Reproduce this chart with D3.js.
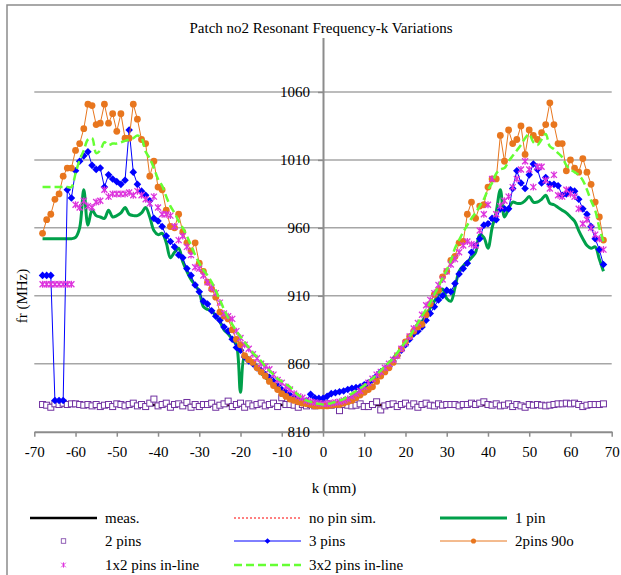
<!DOCTYPE html>
<html>
<head>
<meta charset="utf-8">
<script src="https://cdn.jsdelivr.net/npm/d3@7"></script>
<style>
  body { margin: 0; background: #fff; }
  svg { font-family: "Liberation Serif", "Times New Roman", serif; }
</style>
</head>
<body>
<svg id="chart" width="621" height="575"></svg>
<script>
// ---- data ----
const chartTitle = 'Patch no2 Resonant Frequency-k Variations';
const xTicks = [-70, -60, -50, -40, -30, -20, -10, 0, 10, 20, 30, 40, 50, 60, 70];
const yTicks = [810, 860, 910, 960, 1010, 1060];

// k positions of the simulated series, 1 mm step from -68 to 68
const kValues = d3.range(-68, 69);

const measK = [-68, -60, -50, -40, -30, -20, -10, 0, 10, 20, 30, 40, 50, 60, 68];
const measFr = [829.6, 829.5, 829.7, 829.6, 829.6, 829.5, 829.7, 829.6, 829.6, 829.7, 829.5, 829.6, 829.6, 829.7, 829.6];
const noPinFr = [829.8, 829.8, 829.9, 829.8, 829.7, 829.8, 829.9, 829.8, 829.8, 829.9, 829.8, 829.8, 829.7, 829.8, 829.8];

const onePin = [
  952, 952, 952, 952, 952, 952, 952, 952, 953, 960,
  988, 962, 973, 969, 968, 967, 973, 968, 969, 971,
  975, 970, 969, 969, 971, 975, 968, 958, 955, 956,
  949, 938, 942, 945, 935, 928, 922, 918, 913, 902,
  900, 899, 895, 891, 885, 882, 878, 874, 839, 866,
  864, 861, 857, 853, 850, 847, 844, 841, 839, 837,
  835, 833, 832, 831, 830.5, 830, 830, 830, 830, 830,
  830.5, 831, 832, 833, 834, 836, 838, 840, 842, 845,
  848, 851, 854, 857, 860, 864, 867, 871, 875, 879,
  883, 887, 891, 896, 901, 906, 911, 915, 908, 906,
  916, 928, 932, 935, 938, 942, 955, 953, 945, 960,
  972, 988, 968, 974, 979, 978, 978, 980, 983, 979,
  979, 981, 984, 978, 977, 975, 973, 971, 968, 965,
  958, 952, 947, 945, 946, 937, 928
];

const twoPins = [
  830, 829.5, 828, 830.5, 830, 831, 830, 830.5, 830.5, 830,
  829.5, 830, 829, 830, 828.5, 829.5, 830, 828.5, 830.5, 830,
  829, 830, 831, 829, 830, 828.5, 831, 834, 829, 830,
  831, 828, 830, 830.5, 829, 831.5, 828, 830, 828.5, 830,
  830, 831, 828, 829.5, 830.5, 832.5, 828.5, 830, 831, 828,
  830.5, 829, 830, 831, 829, 830, 831, 828.5, 835, 830,
  830, 829.5, 828, 830, 829, 830, 829, 830, 830, 830.5,
  829.5, 830, 825.5, 830, 829.5, 829, 829.5, 830.5, 828.5, 828.5,
  830, 832, 826, 829, 830, 830.5, 828.5, 830, 831, 829,
  830.5, 828, 830, 831, 829.5, 829, 830.5, 829.5, 830, 830,
  830, 829, 830, 830, 831, 830, 831, 832, 830, 829.5,
  830.5, 829, 829.5, 830.5, 828.5, 830, 829, 828, 830, 829.5,
  830, 829.5, 829, 829.5, 830, 830.5, 830.5, 831, 830.5, 831,
  830, 828.5, 829.5, 830, 830, 830, 830.5
];

const threePins = [
  925, 925, 925, 833, 833, 833, 988, 982, 1002, 1009,
  1013, 1016, 1006, 1003, 1004, 990, 999, 996, 994, 992,
  995, 1032, 1001, 992, 987, 984, 980, 967, 965, 961,
  954, 950, 946, 940, 938, 930, 925, 918, 913, 906,
  904, 899, 895, 892, 887, 884, 878, 872, 870, 865,
  862, 860, 857, 855, 852, 850, 847, 844, 841, 839,
  837, 835, 833, 832, 833, 837.5, 835, 834.5, 834.5, 836,
  838, 838.7, 839.4, 840, 841, 842, 842.5, 843, 844.5, 846,
  848, 851, 854, 856, 858, 862, 866, 870, 874, 878,
  882, 884, 887, 892, 897, 902, 907, 910, 914, 913,
  919, 926, 930, 934, 942, 947, 952, 962, 963, 967,
  966, 974, 974, 974, 989, 1002, 993, 989, 999, 1007,
  1003, 993, 997, 992, 992, 991, 984, 985, 988, 987,
  981, 974, 970, 961, 952, 944, 933
];

const twoPins90 = [
  956, 966, 970, 981, 985, 998, 1004, 1004, 1017, 1022,
  1033, 1051, 1050, 1036, 1037, 1051, 1037, 1044, 1031, 1044,
  1026, 1026, 1051, 1040, 1025, 1022, 998, 1009, 990, 988,
  973, 961, 960, 970, 957, 949, 943, 949, 934, 928,
  920, 915, 909, 898, 895, 893, 885, 878, 874, 866,
  863, 861, 857, 854, 851, 847, 844, 841, 838, 836,
  834, 833, 832, 831, 830.5, 830, 829, 829, 829, 829,
  829.5, 830, 830, 831, 832, 833, 835, 837, 839, 841,
  843, 847, 851, 854, 857, 861, 866, 871, 876, 880,
  884, 887, 889, 896, 904, 911, 914, 924, 928, 936,
  939, 949, 950, 970, 979, 967, 976, 977, 990, 996,
  996, 1028, 1009, 1032, 1022, 1025, 1035, 1014, 1032, 1028,
  1025, 1030, 1036, 1052, 1036, 1022, 1022, 1002, 1010, 1004,
  1001, 1011, 1001, 992, 979, 968, 951
];

const oneByTwo = [
  918.5, 918.5, 918.5, 918.5, 918.5, 918.5, 918.5, 918.5, 977, 975,
  980, 976, 975, 979, 980, 988, 983, 985, 985, 985,
  985, 986, 984, 987, 984, 981, 978, 983, 975, 970,
  970, 969, 961, 951, 954, 946, 940, 931, 930, 925,
  920, 916, 912, 905, 897, 895, 893, 884, 879, 874,
  871, 867, 864, 860, 858, 856, 852, 848, 846, 843,
  841, 838, 836, 835, 833, 832, 831.5, 831, 830.5, 830.5,
  831, 831.5, 832, 833, 834, 836, 838, 840, 843, 846,
  849, 852, 854, 857, 860, 863, 866, 871, 875, 880,
  886, 890, 896, 903, 907, 912, 918, 922, 928, 933,
  937, 942, 947, 950, 948, 947, 958, 970, 977, 996,
  970, 976, 980, 983, 990, 996, 1003, 1009, 1003, 990,
  1005, 1005, 995, 989, 999, 984, 983, 988, 985, 983,
  974, 963, 966, 960, 955, 952, 944
];

const threeByTwo = [
  990, 990, 990, 990, 990, 990, 990, 990, 1000, 1010,
  1017, 1025, 1026, 1015, 1017, 1023, 1021, 1022, 1022, 1023,
  1024, 1025, 1026, 1028, 1026, 1016, 1011, 1004, 996, 991,
  983, 976, 971, 965, 960, 954, 947, 940, 934, 929,
  925, 920, 914, 907, 900, 894, 889, 884, 880, 876,
  872, 868, 865, 862, 858, 855, 852, 849, 847, 845,
  843, 840, 837, 835, 833, 832, 831, 830.5, 830, 830.5,
  831, 832, 833, 834, 836, 838, 840, 842, 844, 847,
  849, 852, 855, 858, 861, 864, 868, 872, 876, 880,
  885, 890, 895, 900, 905, 911, 917, 923, 929, 936,
  945, 951, 957, 962, 967, 971, 976, 981, 988, 993,
  1000, 1003, 1004, 1009, 1013, 1017, 1021, 1026, 1029, 1023,
  1021, 1025, 1029, 1020, 1018, 1015, 1012, 1006, 1003, 1001,
  999, 995, 988, 980, 973, 960, 950
];

// ---- layout ----
const FONT = '"Liberation Serif", "Times New Roman", serif';
const svg = d3.select('#chart');
const x = d3.scaleLinear().domain([-70, 70]).range([34.3, 611.7]);
const y = d3.scaleLinear().domain([810, 1100]).range([431.7, 37.6]);
const gridColor = '#a6a6a6';
const axisColor = '#8c8c8c';

// outer chart border (only top/left visible)
svg.append('path')
  .attr('d', 'M7,590V5H630')
  .attr('fill', 'none')
  .attr('stroke', axisColor)
  .attr('stroke-width', 1.5);

svg.append('text')
  .attr('x', 321).attr('y', 33)
  .attr('text-anchor', 'middle')
  .text(chartTitle);

// horizontal gridlines
svg.append('g').selectAll('line')
  .data(yTicks.filter(d => d > 810))
  .enter().append('line')
  .attr('x1', x(-70)).attr('x2', x(70))
  .attr('y1', d => y(d)).attr('y2', d => y(d))
  .attr('stroke', gridColor).attr('stroke-width', 1.5);

// x axis along 810
const xAxis = svg.append('g')
  .attr('transform', `translate(0,${y(810)})`)
  .call(d3.axisBottom(x).tickValues(xTicks).tickFormat(d => String(d))
    .tickSize(5).tickPadding(10).tickSizeOuter(0));

// y axis crossing at k = 0
const yAxis = svg.append('g')
  .attr('transform', `translate(${x(0)},0)`)
  .call(d3.axisLeft(y).tickValues(yTicks).tickFormat(d => String(d))
    .tickSize(5).tickPadding(8).tickSizeOuter(0));

[xAxis, yAxis].forEach(a => {
  a.attr('font-size', null).attr('font-family', null);
  a.select('.domain').attr('stroke', axisColor).attr('stroke-width', 2);
  a.selectAll('.tick line').attr('stroke', axisColor).attr('stroke-width', 1.5);
});

svg.append('text')
  .attr('transform', 'translate(27,296) rotate(-90)')
  .attr('text-anchor', 'middle')
  .text('fr (MHz)');

svg.append('text')
  .attr('x', 334).attr('y', 493)
  .attr('text-anchor', 'middle')
  .text('k (mm)');

// ---- marker shapes ----
const markers = {
  square: g => g.append('rect').attr('x', -3).attr('y', -3).attr('width', 6).attr('height', 6)
    .attr('fill', '#fff').attr('stroke', '#7030a0').attr('stroke-width', 1),
  diamond: g => g.append('path').attr('d', 'M0,-3.8L3.8,0L0,3.8L-3.8,0Z').attr('fill', '#0000ff'),
  circle: g => g.append('circle').attr('r', 3.4).attr('fill', '#e8761e'),
  star: g => g.append('path').attr('d', 'M-3,-3L3,3M-3,3L3,-3M0,-3.5V3.5')
    .attr('fill', 'none').attr('stroke', '#dd33dd').attr('stroke-width', 1.3)
};

// series in legend order; later ones draw on top
const series = [
  { name: 'meas.', k: measK, fr: measFr, line: { color: '#000', width: 2.5 } },
  { name: 'no pin sim.', k: measK, fr: noPinFr, line: { color: '#ff0000', width: 1, dash: '2,2' } },
  { name: '1 pin', k: kValues, fr: onePin, line: { color: '#00a04a', width: 3, smooth: true } },
  { name: '2 pins', k: kValues, fr: twoPins, marker: 'square' },
  { name: '3 pins', k: kValues, fr: threePins, line: { color: '#0000ff', width: 1 }, marker: 'diamond' },
  { name: '2pins 90o', k: kValues, fr: twoPins90, line: { color: '#e8761e', width: 1 }, marker: 'circle' },
  { name: '1x2 pins in-line', k: kValues, fr: oneByTwo, marker: 'star' },
  { name: '3x2 pins in-line', k: kValues, fr: threeByTwo, line: { color: '#66ff33', width: 2.5, dash: '8,4', smooth: true } }
];

const plot = svg.append('g');
series.forEach(s => {
  const pts = s.k.map((k, i) => ({ k: k, fr: s.fr[i] }));
  if (s.line) {
    const gen = d3.line()
      .x(d => x(d.k))
      .y(d => y(d.fr))
      .curve(s.line.smooth ? d3.curveCatmullRom.alpha(0.5) : d3.curveLinear);
    plot.append('path')
      .datum(pts)
      .attr('d', gen)
      .attr('fill', 'none')
      .attr('stroke', s.line.color)
      .attr('stroke-width', s.line.width)
      .attr('stroke-dasharray', s.line.dash || null)
      .attr('stroke-linejoin', 'round');
  }
  if (s.marker) {
    plot.append('g').selectAll('g')
      .data(pts)
      .enter().append('g')
      .attr('transform', d => `translate(${x(d.k)},${y(d.fr)})`)
      .each(function () { markers[s.marker](d3.select(this)); });
  }
});

// ---- legend: 3 columns ----
const legendCols = [30, 234, 440];
const legendRows = [518, 541, 565];
series.forEach((s, i) => {
  const lx = legendCols[i % 3];
  const ly = legendRows[Math.floor(i / 3)];
  const g = svg.append('g').attr('transform', `translate(${lx},${ly})`);
  if (s.line) {
    g.append('line')
      .attr('x1', 0).attr('x2', 67).attr('y1', 0).attr('y2', 0)
      .attr('stroke', s.line.color)
      .attr('stroke-width', s.line.width)
      .attr('stroke-dasharray', s.line.dash || null);
  }
  if (s.marker) {
    const m = g.append('g').attr('transform', 'translate(33.5,0) scale(0.75)');
    markers[s.marker](m);
  }
  g.append('text')
    .attr('x', 75).attr('y', 0).attr('dy', '0.32em')
    .text(s.name);
});

// one serif face for all text, as in the original chart
svg.selectAll('text')
  .style('font-family', FONT)
  .style('font-size', '15px')
  .attr('fill', '#000');
</script>
</body>
</html>
